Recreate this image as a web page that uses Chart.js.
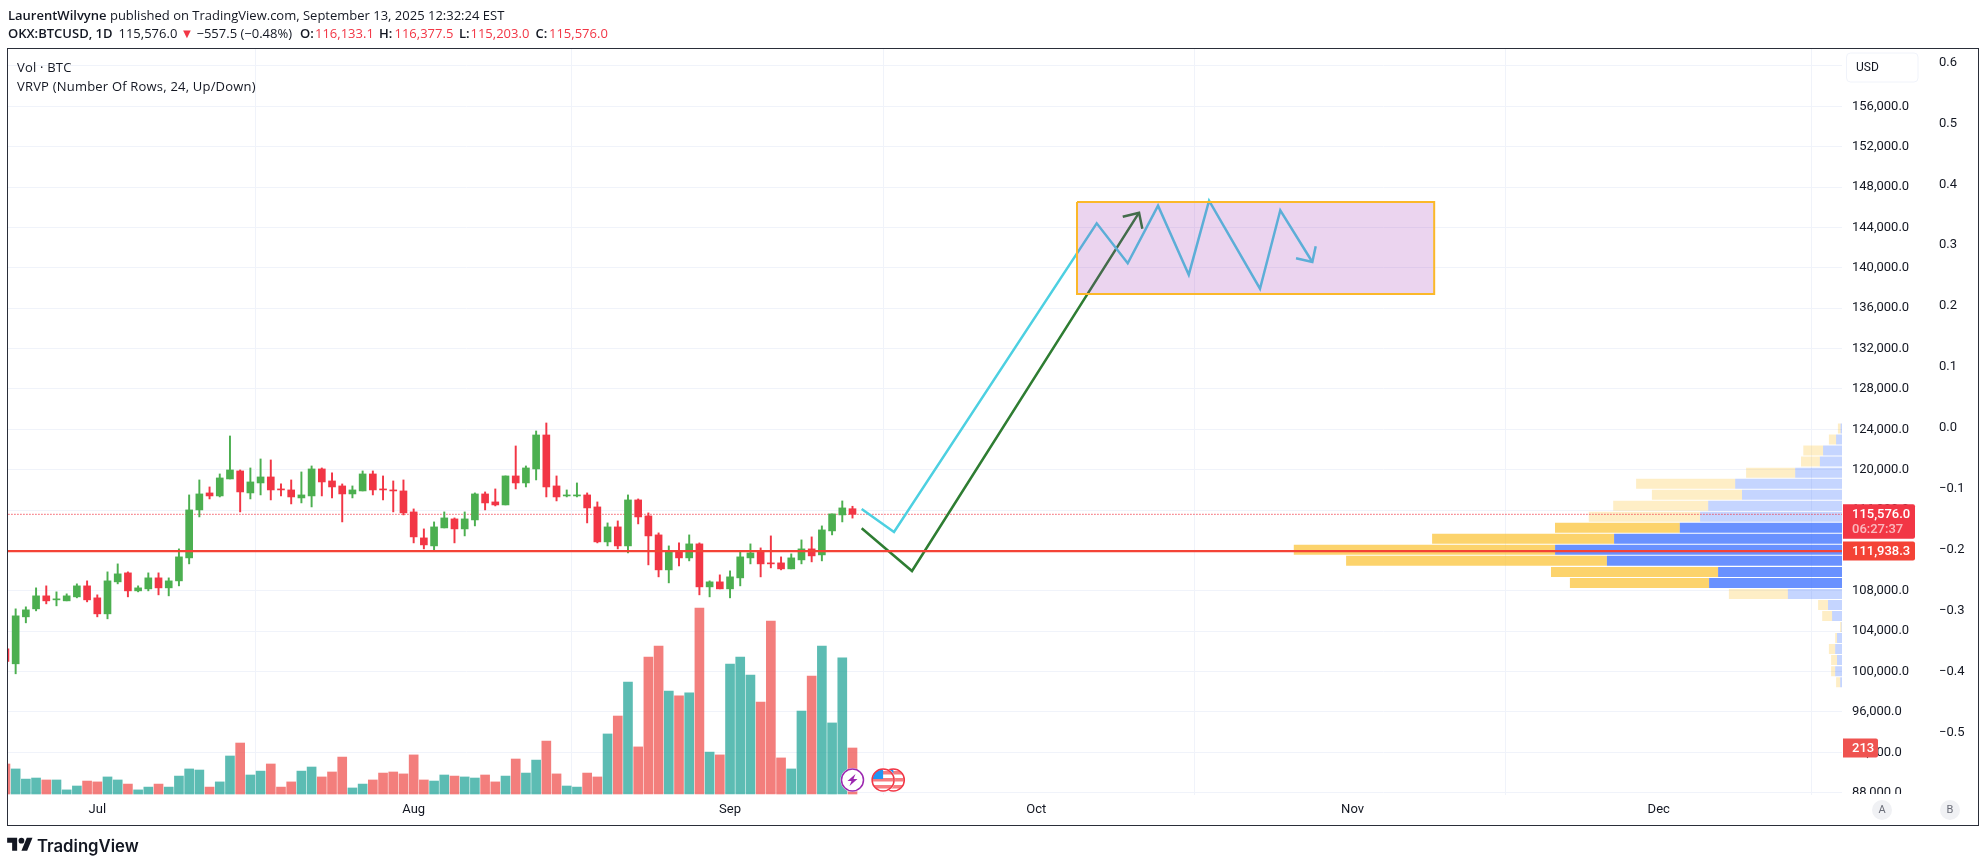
<!DOCTYPE html>
<html><head><meta charset="utf-8">
<style>
html,body{margin:0;padding:0;background:#fff;width:1986px;height:866px;overflow:hidden}
#c{position:absolute;left:0;top:0}
.t{position:absolute;white-space:nowrap;font-family:"Open Sans",Roboto,sans-serif;color:#131722;font-size:13px;line-height:18px}
.h{top:24px}
.b{font-weight:600}
.r{color:#f23645}
#pane{position:absolute;left:7px;top:48px;width:1970px;height:776px;border:1.5px solid #2a2e39;pointer-events:none}
</style></head><body>
<canvas id="c" width="1986" height="866"></canvas>
<div id="pane"></div>
<div class="t" style="left:8px;top:6px"><span class="b">LaurentWilvyne</span> published on TradingView.com, September 13, 2025 12:32:24 EST</div>
<div class="t h b" style="left:8px">OKX:BTCUSD, 1D</div>
<div class="t h" style="left:118.5px">115,576.0</div>
<div class="t h r" style="left:180.5px;font-size:13px">▼</div>
<div class="t h" style="left:196.5px">−557.5 (−0.48%)</div>
<div class="t h b" style="left:300px">O:</div><div class="t h r" style="left:315px">116,133.1</div>
<div class="t h b" style="left:379px">H:</div><div class="t h r" style="left:394.5px">116,377.5</div>
<div class="t h b" style="left:459px">L:</div><div class="t h r" style="left:470.5px">115,203.0</div>
<div class="t h b" style="left:535.5px">C:</div><div class="t h r" style="left:549px">115,576.0</div>
<div class="t" style="left:17px;top:58px;letter-spacing:.2px">Vol · BTC</div>
<div class="t" style="left:17px;top:77px;letter-spacing:.2px">VRVP (Number Of Rows, 24, Up/Down)</div>
<svg style="position:absolute;left:7px;top:835px" width="26" height="20" viewBox="0 0 36 28"><path fill="#131722" d="M14 22H7V11H0V4h14v18zM28 22h-8l7.5-18h8L28 22z"/><circle fill="#131722" cx="20" cy="8" r="4"/></svg>
<div class="t" style="left:37px;top:834px;font-family:Inter,sans-serif;font-size:16.7px;font-weight:600;line-height:24px">TradingView</div>
<script src="https://cdn.jsdelivr.net/npm/chart.js@4/dist/chart.umd.js"></script>
<script>
// ---------- data ----------
const days = [-9,-8,-7,-6,-5,-4,-3,-2,-1,0,1,2,3,4,5,6,7,8,9,10,11,12,13,14,15,16,17,18,19,20,21,22,23,24,25,26,27,28,29,30,31,32,33,34,35,36,37,38,39,40,41,42,43,44,45,46,47,48,49,50,51,52,53,54,55,56,57,58,59,60,61,62,63,64,65,66,67,68,69,70,71,72,73,74];
const opens = [102253,100768,105421,106213,107500,107104,107005,107401,108490,107302,105718,108886,109777,107995,108193,109282,108292,108985,111262,116014,117697,117400,119083,119875,117697,118687,119281,118093,117994,117202,117400,120073,118885,118390,117598,117895,119578,118093,117994,117895,115816,113242,112450,114232,115123,114133,115024,117598,116806,116509,119380,118687,120073,123439,118390,117400,117400,117499,116311,112846,114331,112450,117004,115420,113539,110074,111856,111262,112648,108391,108886,108193,109282,111262,111856,110767,110767,110173,111064,112153,111559,113935,115519,116133];
const highs = [102253,106213,106411,108292,108490,107896,107698,108688,108985,107599,109876,110668,109876,108490,109777,109777,109282,112153,117499,118984,118291,119578,123340,119974,120172,121063,120964,118588,118984,119776,120370,120172,119677,118588,118390,119875,119875,119380,118885,118984,116113,114133,114826,115816,115222,115816,117697,117796,118093,119380,122350,120370,123835,124627,119380,117994,118687,117697,116806,114727,114925,117499,117103,115717,113737,112450,112747,113539,112747,108985,109579,109975,111856,112648,112252,113440,111361,111658,113044,113341,114430,115618,116905,116377];
const lows = [101000,99778,104827,106015,106708,106510,107005,107302,106906,105421,105223,108688,107401,107896,107995,107599,107500,108490,110668,115321,117103,117301,119083,115816,117103,117499,117004,117400,116608,116707,116311,117400,117202,114826,117202,117895,117499,117004,115816,115519,112747,112153,111955,114232,112747,113440,114430,116014,116410,116509,118093,118291,118984,117301,116905,117301,117301,114727,112747,112450,112153,111757,114628,110569,109381,108787,110470,110965,107599,107401,108193,107302,108490,110668,109381,110272,110074,110173,110668,110866,110965,113539,114826,115203];
const closes = [101000,105520,106114,107500,107005,107203,107500,108490,107104,105718,108985,109678,107995,108292,109282,108292,108985,111361,116014,117598,117400,119182,119974,117796,118786,119281,117994,117994,117301,117499,120073,118786,118291,117598,117994,119578,117994,117994,117895,115717,113341,112549,114331,115222,114133,115123,117598,116707,116509,119380,118687,120172,123439,118291,117301,117499,117499,116212,112846,114331,112450,117004,115321,113440,110074,111856,111262,112648,108391,108886,108193,109381,111361,111757,110668,110668,110173,111262,112153,111460,114034,115618,116212,115576];
const volumes = [139,116,69,74,65,65,19,37,60,56,79,65,46,19,32,46,32,83,116,111,32,56,176,236,88,106,139,32,56,106,125,79,102,171,28,46,65,97,102,93,181,65,60,88,83,79,74,88,56,83,162,97,157,245,93,37,32,97,79,278,361,518,218,634,685,477,454,468,861,194,181,602,634,551,426,801,167,116,384,546,685,329,630,213];

const monthDays = [0,31,62,92,123,153];
const monthNames = ["Jul","Aug","Sep","Oct","Nov","Dec"];
const priceTicks = [160000,156000,152000,148000,144000,140000,136000,132000,128000,124000,120000,116000,112000,108000,104000,100000,96000,92000,88000];
const pctTicks = [0.6,0.5,0.4,0.3,0.2,0.1,0,-0.1,-0.2,-0.3,-0.4,-0.5];

const vpPrices = [124079,122986,121894,120801,119708,118616,117523,116430,115338,114245,113152,112060,110967,109875,108782,107689,106597,105504,104411,103319,102226,101134,100041,98948];
const vpUp =   [14,59,189,221,468,1068,1000,1338,1419,1622,2279,2869,2351,1239,1329,541,140,99,5,50,68,50,68,18];
const vpDown = [27,72,198,189,491,991,901,950,1113,1248,1820,2613,2608,1671,1392,590,99,99,14,18,63,59,41,41];
const vpStrongRows = [9,10,11,12,13,14];

const lastPrice = 115576.0;
const levelPrice = 111938.3;
const lastVolume = 213;
const countdown = "06:27:37";

const boxDays = [96,131];
const boxPrices = [137405,146519];
const cyanDays = [74.9,78.07,97.93,100.97,103.94,106.95,108.94,113.93,115.92,119.06];
const cyanPrices = [116105,113826,144409,140446,146152,139317,146648,137930,145697,140575];
const cyanHeadDays = [117.46,119.06,119.39];
const cyanHeadPrices = [140941,140575,142130];
const greenDays = [74.9,79.83,102.08];
const greenPrices = [114192,109962,145459];
const greenHeadDays = [100.48,102.08,102.4];
const greenHeadPrices = [145063,145459,143874];
const eventDays = [74];
const flagDays = [78,77];

// ---------- colours ----------
const GREEN="#4caf50", RED="#f23645", TEAL="rgba(38,166,154,.75)", SALMON="rgba(239,83,80,.75)", GRID="#f0f3fa", INK="#131722";
const up = closes.map((c,i)=>c>=opens[i]);
const candleCol = up.map(u=>u?GREEN:RED);
const volCol = up.map(u=>u?TEAL:SALMON);

// ---------- builders ----------
const xy=(xs,ys)=>xs.map((x,i)=>({x,y:ys[i]}));
function vpSeg(strong,upper){
  const out=[];
  vpPrices.forEach((p,i)=>{
    if(vpStrongRows.includes(i)!==strong) return;
    const a=upper?0:vpUp[i], b=upper?vpUp[i]:vpUp[i]+vpDown[i];
    out.push({x:a,y:p},{x:b,y:p},{x:null,y:null});
  });
  return out;
}
const vpLine=(strong,upper,color)=>({type:'line',xAxisID:'xVP',yAxisID:'y',order:9,data:vpSeg(strong,upper),borderColor:color,borderWidth:10,borderCapStyle:'butt',pointRadius:0,tension:0,spanGaps:false,fill:false});
const annLine=(xs,ys,color,w,order)=>({type:'line',xAxisID:'x',yAxisID:'y',order,data:xy(xs,ys),borderColor:color,borderWidth:w,pointRadius:0,tension:0,fill:false,borderJoinStyle:'miter'});

const datasets=[
 // solid level and dotted last-price line
 {...annLine([-9,175],[levelPrice,levelPrice],"#f44336",2.2,0)},
 {...annLine([-9,175],[lastPrice,lastPrice],RED,1.2,7),borderDash:[1,2]},
 // target box
 {type:'line',xAxisID:'x',yAxisID:'y',order:1,
  data:xy([boxDays[0],boxDays[1],boxDays[1],boxDays[0],boxDays[0]],[boxPrices[1],boxPrices[1],boxPrices[0],boxPrices[0],boxPrices[1]]),
  borderColor:"#fbb829",borderWidth:2,pointRadius:0,tension:0,fill:'shape',backgroundColor:"rgba(156,39,176,.2)"},
 // drawn paths
 annLine(cyanDays,cyanPrices,"#4dd0e1",2.5,2),
 annLine(cyanHeadDays,cyanHeadPrices,"#4dd0e1",2.5,2),
 annLine(greenDays,greenPrices,"#2e7d32",2.5,2),
 annLine(greenHeadDays,greenHeadPrices,"#2e7d32",2.5,2),
 // candles
 {type:'bar',xAxisID:'x',yAxisID:'y',order:3,grouped:false,barThickness:7,minBarLength:1,data:days.map((d,i)=>({x:d,y:[opens[i],closes[i]]})),backgroundColor:candleCol,borderWidth:0},
 {type:'bar',xAxisID:'x',yAxisID:'y',order:4,grouped:false,barThickness:1.3,data:days.map((d,i)=>({x:d,y:[lows[i],highs[i]]})),backgroundColor:candleCol,borderWidth:0},
 // volume
 {type:'bar',xAxisID:'x',yAxisID:'yVol',order:8,grouped:false,barThickness:9,data:days.map((d,i)=>({x:d,y:volumes[i]})),backgroundColor:volCol,borderWidth:0},
 // visible-range volume profile
 vpLine(true,true,"rgba(41,98,255,.7)"),
 vpLine(true,false,"rgba(251,192,45,.7)"),
 vpLine(false,true,"rgba(41,98,255,.27)"),
 vpLine(false,false,"rgba(251,192,45,.27)")
];

function roundBox(ctx,x,y,w,h,r,fill,stroke){
  ctx.beginPath();ctx.roundRect(x,y,w,h,r);
  if(fill){ctx.fillStyle=fill;ctx.fill();}
  if(stroke){ctx.strokeStyle=stroke;ctx.lineWidth=1;ctx.stroke();}
}
const FONT='Roboto, sans-serif';
const overlay={id:'overlay',afterDraw(chart){
  const ctx=chart.ctx,S=chart.scales;ctx.save();
  // clip the bottom of the price axis above the A / B buttons
  ctx.fillStyle="#fff";ctx.fillRect(1843,794,134,30);
  // event markers
  const ey=780;
  flagDays.forEach(d=>{
    const x=S.x.getPixelForValue(d);
    ctx.save();ctx.beginPath();ctx.arc(x,ey,12,0,7);ctx.fillStyle="#fff";ctx.fill();
    ctx.beginPath();ctx.arc(x,ey,10.5,0,7);ctx.clip();
    ctx.fillStyle="#f77c80";for(let k=-9;k<10;k+=7)ctx.fillRect(x-12,ey+k,24,3.5);
    ctx.fillStyle="#2196f3";ctx.fillRect(x-11,ey-12,11,11);
    ctx.restore();
    ctx.beginPath();ctx.arc(x,ey,11,0,7);ctx.strokeStyle=RED;ctx.lineWidth=1.5;ctx.stroke();
  });
  eventDays.forEach(d=>{
    const x=S.x.getPixelForValue(d);
    ctx.beginPath();ctx.arc(x,ey,12,0,7);ctx.fillStyle="#fff";ctx.fill();
    ctx.beginPath();ctx.arc(x,ey,11,0,7);ctx.strokeStyle="#9c27b0";ctx.lineWidth=1.5;ctx.stroke();
    ctx.beginPath();ctx.moveTo(x+3,ey-6);ctx.lineTo(x-5,ey+1);ctx.lineTo(x-1,ey+1);ctx.lineTo(x-3,ey+6);ctx.lineTo(x+5,ey-1);ctx.lineTo(x+1,ey-1);ctx.closePath();ctx.fillStyle="#9c27b0";ctx.fill();
  });
  // price tags
  ctx.textBaseline='middle';ctx.textAlign='left';
  const py=S.y.getPixelForValue(lastPrice), ly=S.y.getPixelForValue(levelPrice), vy=S.yVol.getPixelForValue(lastVolume);
  roundBox(ctx,1843,py-10,72,34.5,[0,2,2,0],RED);
  ctx.fillStyle="#fff";ctx.font='500 13px '+FONT;ctx.fillText("115,576.0",1852,py+0.5);
  ctx.fillStyle="rgba(255,255,255,.65)";ctx.fillText(countdown,1852,py+15.5);
  roundBox(ctx,1843,ly-9.5,72,19,[0,2,2,0],"#f44336");
  ctx.fillStyle="#fff";ctx.fillText("111,938.3",1852,ly+0.5);
  roundBox(ctx,1843,vy-9.5,35,19,[0,2,2,0],"#ef5350");
  ctx.fillStyle="#fff";ctx.fillText(String(lastVolume),1852,vy+0.5);
  // currency button
  roundBox(ctx,1846.5,53,71.5,29,4,"#fff",GRID);
  ctx.fillStyle=INK;ctx.font='12px '+FONT;ctx.fillText("USD",1856,68);
  // A / B buttons
  [[1882,"A"],[1950,"B"]].forEach(([x,s])=>{
    ctx.beginPath();ctx.arc(x,810,10,0,7);ctx.fillStyle="#f0f1f4";ctx.fill();
    ctx.fillStyle="#6a6d78";ctx.textAlign='center';ctx.font='11px '+FONT;ctx.fillText(s,x,810.5);
  });
  ctx.restore();
}};

new Chart(document.getElementById('c'),{
  type:'bar',
  data:{datasets},
  plugins:[overlay],
  options:{
    responsive:false,animation:false,devicePixelRatio:1,
    layout:{padding:{left:8,top:49,right:7,bottom:41}},
    plugins:{legend:{display:false},tooltip:{enabled:false},title:{display:false}},
    scales:{
      x:{type:'linear',position:'bottom',min:-8.75,max:170.96,offset:false,
        afterBuildTicks(s){s.ticks=monthDays.map(v=>({value:v}));},
        afterFit(s){s.height=30;},
        grid:{color:GRID,drawTicks:false},border:{display:false},
        ticks:{autoSkip:false,maxRotation:0,padding:7,color:INK,font:{family:FONT,size:13},
          callback(v){const i=monthDays.indexOf(v);return i<0?'':monthNames[i];}}},
      xVP:{type:'linear',axis:'x',display:false,min:0,max:18340,reverse:true,offset:false},
      y:{type:'linear',position:'right',min:87771,max:161677,
        afterBuildTicks(s){s.ticks=priceTicks.map(v=>({value:v}));},
        afterFit(s){s.width=78;},
        grid:{color:GRID,drawTicks:false},border:{display:false},
        ticks:{autoSkip:false,padding:10,color:INK,font:{family:FONT,size:13},
          callback(v){return v>=160000?'':v.toLocaleString('en-US',{minimumFractionDigits:1,maximumFractionDigits:1});}}},
      yPct:{type:'linear',position:'right',min:-0.6026,max:0.6222,
        afterBuildTicks(s){s.ticks=pctTicks.map(v=>({value:v}));},
        afterFit(s){s.width=59;},
        grid:{display:false},border:{display:false},
        ticks:{autoSkip:false,padding:11,color:INK,font:{family:FONT,size:13},
          callback(v){return (v<0?'−':'')+Math.abs(v).toFixed(1);}}},
      yVol:{type:'linear',display:false,min:-4.6,max:3449}
    }
  }
});
</script>
</body></html>
